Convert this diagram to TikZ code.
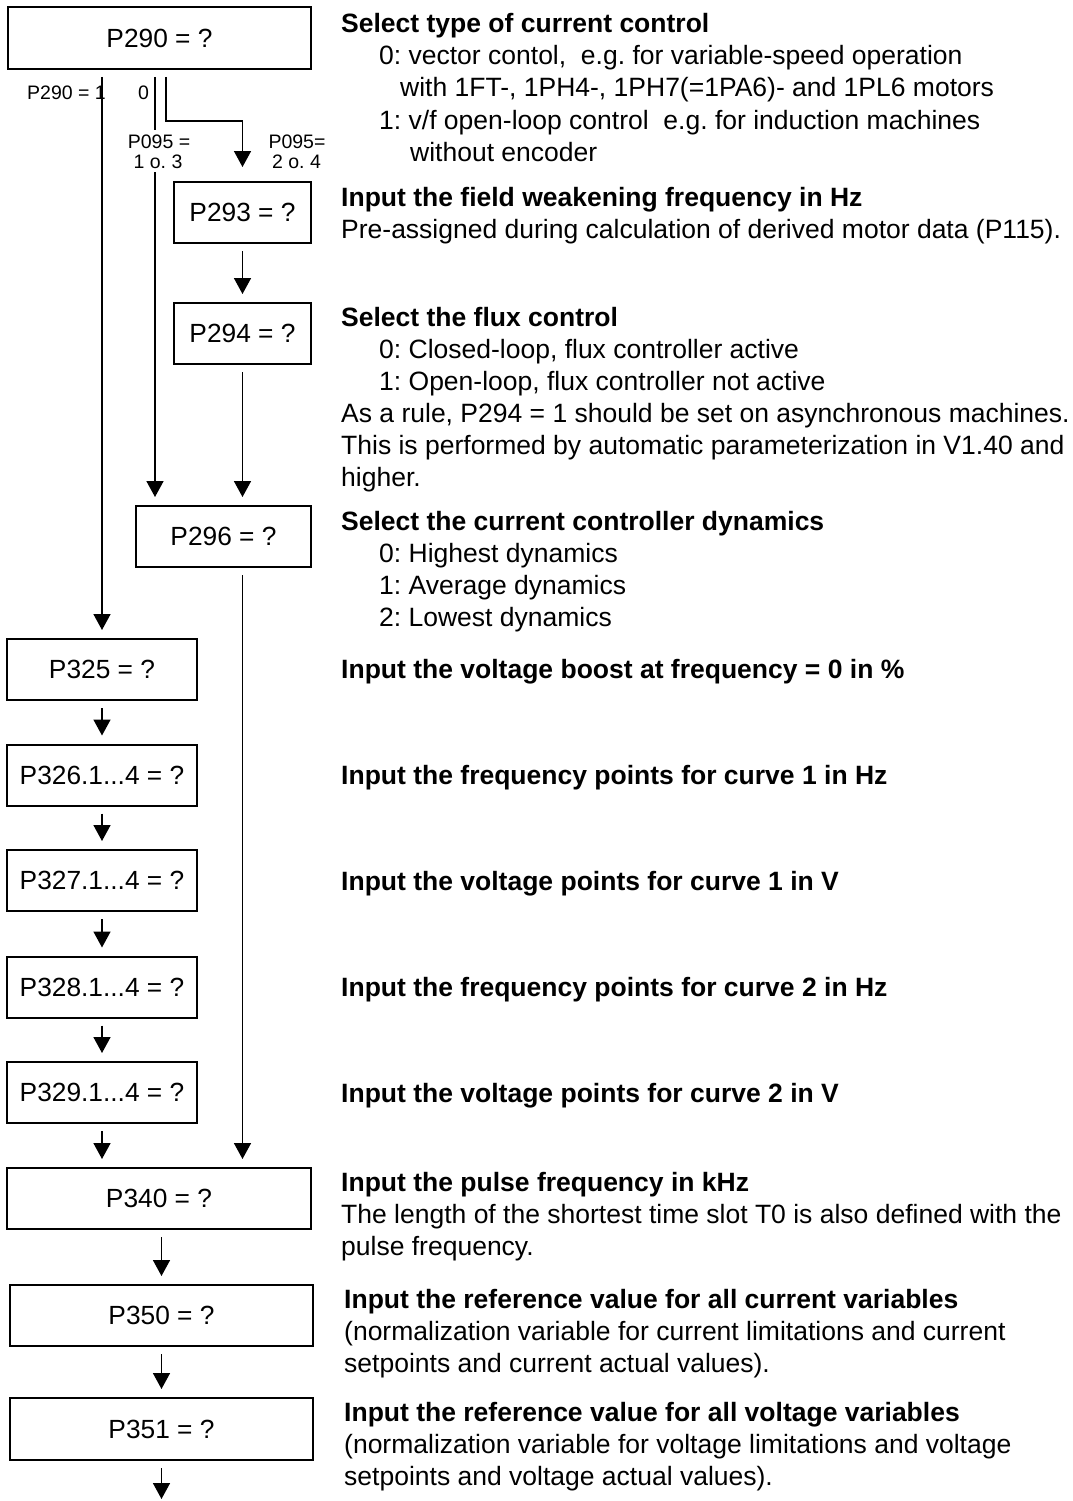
\documentclass[tikz,border=0pt]{standalone}
\usepackage{fontspec}
\setmainfont{Liberation Sans}
\usetikzlibrary{arrows.meta,calc}
\frenchspacing
\begin{document}
\begin{tikzpicture}[x=1pt,y=-1pt,
  box/.style={draw,line width=2pt,inner sep=0pt,font=\fontsize{26.3}{32}\selectfont},
  arr/.style={line width=1.6pt,-{Triangle[width=17pt,length=16pt]},shorten <=7pt,shorten >=8pt},
  txt/.style={anchor=base west,inner sep=0pt,font=\fontsize{26.5}{32}\selectfont},
  btxt/.style={txt,font=\fontsize{26.5}{32}\selectfont\bfseries},
  lbl/.style={anchor=base,inner sep=0pt,font=\fontsize{19.5}{20}\selectfont}]
\useasboundingbox (0,0) rectangle (1072,1501);
% boxes
\node[box,minimum width=303pt,minimum height=62pt] (p290) at (159.5,38) {P290 = ?};
\node[box,minimum width=137pt,minimum height=61pt] (p293) at (242.5,212.5) {P293 = ?};
\node[box,minimum width=137pt,minimum height=61pt] (p294) at (242.5,333.5) {P294 = ?};
\node[box,minimum width=175pt,minimum height=61pt] (p296) at (223.5,536.5) {P296 = ?};
\node[box,minimum width=190pt,minimum height=61pt] (p325) at (102,669.5) {P325 = ?};
\node[box,minimum width=190pt,minimum height=61pt] (p326) at (102,775) {P326.1...4 = ?};
\node[box,minimum width=190pt,minimum height=61pt] (p327) at (102,880.5) {P327.1...4 = ?};
\node[box,minimum width=190pt,minimum height=61pt] (p328) at (102,987) {P328.1...4 = ?};
\node[box,minimum width=190pt,minimum height=61pt] (p329) at (102,1092.5) {P329.1...4 = ?};
\node[box,minimum width=304pt,minimum height=61pt] (p340) at (159,1198.5) {P340 = ?};
\node[box,minimum width=303pt,minimum height=61pt] (p350) at (161.5,1315.5) {P350 = ?};
\node[box,minimum width=303pt,minimum height=62pt] (p351) at (161.5,1429) {P351 = ?};
\coordinate (xa) at (155,0);
\coordinate (xb) at (166,0);
\coordinate (fin) at (161.5,1507);
% connectors
\draw[arr] (p290.south -| p325.north) -- (p325.north);
\draw[arr] (p290.south -| xa) -- (p296.north -| xa);
\draw[arr,shorten >=14pt] (p290.south -| xb) |- ($(p293.north)+(0,-60)$) -- (p293.north);
\draw[arr] (p293.south) -- (p294.north);
\draw[arr] (p294.south) -- (p296.north -| p294.south);
\draw[arr] (p296.south -| p294.south) -- (p340.north -| p294.south);
\draw[arr] (p325.south) -- (p326.north);
\draw[arr] (p326.south) -- (p327.north);
\draw[arr] (p327.south) -- (p328.north);
\draw[arr] (p328.south) -- (p329.north);
\draw[arr] (p329.south) -- (p340.north -| p329.south);
\draw[arr] (p340.south -| p350.north) -- (p350.north);
\draw[arr] (p350.south) -- (p351.north);
\draw[arr] (p351.south) -- (fin);
% small labels
\node[lbl,anchor=base west] (l1) at (27,100) {P290 = 1};
\node[lbl,anchor=base west] (l2) at (138,100) {0};
\node[lbl,fill=white,inner xsep=2pt,inner ysep=4pt] (l3) at (159,148) {P095 =};
\node[lbl,fill=white,inner xsep=2pt,inner ysep=4pt] (l4) at (158,168) {1 o. 3};
\node[lbl] (l5) at (297,148) {P095=};
\node[lbl] (l6) at (296.5,168) {2 o. 4};
% right texts
\node[btxt] (a1) at (341,33) {Select type of current control};
\node[txt] (a2) at (379,65) {0: vector contol,\ \ e.g. for variable-speed operation};
\node[txt] (a3) at (400,97) {with 1FT-, 1PH4-, 1PH7(=1PA6)- and 1PL6 motors};
\node[txt] (a4) at (379,129) {1: v/f open-loop control\ \ e.g. for induction machines};
\node[txt] (a5) at (410,161) {without encoder};
\node[btxt] (b1) at (341,206) {Input the field weakening frequency in Hz};
\node[txt] (b2) at (341,238) {Pre-assigned during calculation of derived motor data (P115).};
\node[btxt] (c1) at (341,326) {Select the flux control};
\node[txt] (c2) at (379,358) {0: Closed-loop, flux controller active};
\node[txt] (c3) at (379,390) {1: Open-loop, flux controller not active};
\node[txt] (c4) at (341,422) {As a rule, P294 = 1 should be set on asynchronous machines.};
\node[txt] (c5) at (341,454) {This is performed by automatic parameterization in V1.40 and};
\node[txt] (c6) at (341,486) {higher.};
\node[btxt] (d1) at (341,530) {Select the current controller dynamics};
\node[txt] (d2) at (379,562) {0: Highest dynamics};
\node[txt] (d3) at (379,594) {1: Average dynamics};
\node[txt] (d4) at (379,626) {2: Lowest dynamics};
\node[btxt] (e1) at (341,678) {Input the voltage boost at frequency = 0 in \%};
\node[btxt] (f1) at (341,784) {Input the frequency points for curve 1 in Hz};
\node[btxt] (g1) at (341,890) {Input the voltage points for curve 1 in V};
\node[btxt] (h1) at (341,996) {Input the frequency points for curve 2 in Hz};
\node[btxt] (i1) at (341,1102) {Input the voltage points for curve 2 in V};
\node[btxt] (j1) at (341,1191) {Input the pulse frequency in kHz};
\node[txt] (j2) at (341,1223) {The length of the shortest time slot T0 is also defined with the};
\node[txt] (j3) at (341,1255) {pulse frequency.};
\node[btxt] (k1) at (344,1308) {Input the reference value for all current variables};
\node[txt] (k2) at (344,1340) {(normalization variable for current limitations and current};
\node[txt] (k3) at (344,1372) {setpoints and current actual values).};
\node[btxt] (m1) at (344,1421) {Input the reference value for all voltage variables};
\node[txt] (m2) at (344,1453) {(normalization variable for voltage limitations and voltage};
\node[txt] (m3) at (344,1485) {setpoints and voltage actual values).};
\end{tikzpicture}
\end{document}
